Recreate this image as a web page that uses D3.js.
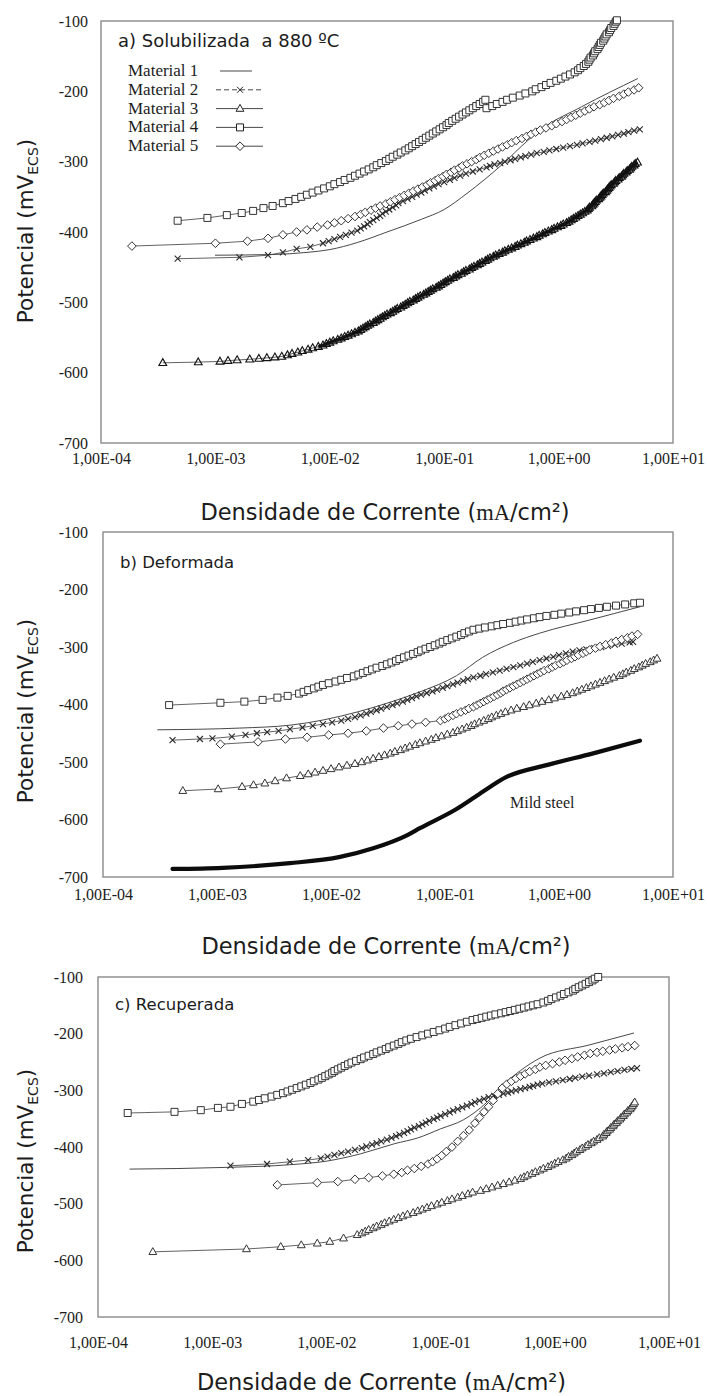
<!DOCTYPE html>
<html><head><meta charset="utf-8">
<script src="https://cdn.jsdelivr.net/npm/d3@7"></script>
<style>body{margin:0;background:#fff}</style>
</head><body>
<script>
// Polarisation curves: each point is [log10 of current density (mA/cm²), potential (mV ECS)]

// ---- a) Solubilizada a 880 ºC ----
const solM1 = [[-3.00,-433],[-2.50,-432],[-2.20,-429],[-2.00,-425],[-1.76,-415],[-1.50,-400],[-1.20,-382],[-1.00,-368],[-0.80,-345],[-0.50,-305],[-0.27,-270],[-0.16,-255],[0.20,-222],[0.69,-182]];
const solM2 = [[-3.33,-438],[-2.79,-436],[-2.54,-433],[-2.41,-429],[-2.29,-424],[-2.17,-421],[-2.06,-416],[-2.01,-413],[-1.96,-410],[-1.91,-407],[-1.86,-404],[-1.81,-401],[-1.76,-398],[-1.73,-395],[-1.70,-392],[-1.67,-389],[-1.65,-386],[-1.62,-383],[-1.59,-380],[-1.56,-377],[-1.54,-374],[-1.51,-371],[-1.48,-368],[-1.45,-365],[-1.42,-362],[-1.40,-359],[-1.36,-356],[-1.32,-353],[-1.28,-350],[-1.24,-347],[-1.20,-344],[-1.17,-341],[-1.13,-338],[-1.09,-335],[-1.05,-332],[-1.00,-329],[-0.95,-326],[-0.91,-323],[-0.86,-320],[-0.81,-317],[-0.75,-314],[-0.69,-311],[-0.63,-308],[-0.60,-306],[-0.56,-304],[-0.51,-302],[-0.47,-300],[-0.42,-298],[-0.38,-296],[-0.33,-294],[-0.29,-292],[-0.24,-290],[-0.19,-288],[-0.13,-286],[-0.08,-284],[-0.02,-282],[0.04,-280],[0.10,-278],[0.16,-276],[0.21,-274],[0.27,-272],[0.32,-270],[0.37,-268],[0.42,-266],[0.47,-264],[0.52,-262],[0.57,-260],[0.61,-258],[0.66,-256],[0.71,-254]];
const solM3 = [[-3.46,-586],[-3.15,-585],[-2.96,-584],[-2.89,-583],[-2.81,-582],[-2.70,-581],[-2.62,-580],[-2.55,-579],[-2.48,-578],[-2.42,-577],[-2.37,-575],[-2.33,-573],[-2.28,-571],[-2.24,-569],[-2.19,-567],[-2.15,-565],[-2.10,-563],[-2.06,-561],[-2.03,-559],[-2.00,-557],[-1.97,-555],[-1.93,-553],[-1.90,-551],[-1.87,-549],[-1.84,-547],[-1.81,-545],[-1.78,-543],[-1.75,-541],[-1.73,-539],[-1.71,-537],[-1.69,-535],[-1.67,-533],[-1.65,-531],[-1.62,-529],[-1.60,-527],[-1.58,-525],[-1.56,-523],[-1.54,-521],[-1.52,-519],[-1.50,-517],[-1.47,-515],[-1.45,-513],[-1.43,-511],[-1.41,-509],[-1.38,-507],[-1.36,-505],[-1.34,-503],[-1.32,-501],[-1.30,-499],[-1.27,-497],[-1.25,-495],[-1.23,-493],[-1.21,-491],[-1.18,-489],[-1.16,-487],[-1.14,-485],[-1.12,-483],[-1.10,-481],[-1.07,-479],[-1.05,-477],[-1.03,-475],[-1.01,-473],[-0.99,-471],[-0.97,-469],[-0.95,-467],[-0.92,-465],[-0.90,-463],[-0.88,-461],[-0.85,-459],[-0.83,-457],[-0.81,-455],[-0.78,-453],[-0.76,-451],[-0.74,-449],[-0.71,-447],[-0.69,-445],[-0.67,-443],[-0.64,-441],[-0.62,-439],[-0.60,-437],[-0.57,-435],[-0.55,-433],[-0.52,-431],[-0.49,-429],[-0.47,-427],[-0.44,-425],[-0.41,-423],[-0.38,-421],[-0.36,-419],[-0.33,-417],[-0.30,-415],[-0.28,-413],[-0.25,-411],[-0.22,-409],[-0.19,-407],[-0.17,-405],[-0.14,-403],[-0.12,-401],[-0.09,-399],[-0.06,-397],[-0.04,-395],[-0.01,-393],[0.02,-391],[0.04,-389],[0.07,-387],[0.09,-385],[0.11,-383],[0.13,-381],[0.15,-379],[0.17,-377],[0.19,-375],[0.21,-373],[0.23,-371],[0.25,-369],[0.26,-367],[0.27,-365],[0.29,-363],[0.30,-361],[0.31,-359],[0.32,-357],[0.33,-355],[0.35,-353],[0.36,-351],[0.37,-349],[0.38,-347],[0.39,-345],[0.41,-343],[0.42,-341],[0.43,-339],[0.44,-337],[0.45,-335],[0.46,-333],[0.48,-331],[0.49,-329],[0.50,-327],[0.52,-325],[0.53,-323],[0.55,-321],[0.56,-319],[0.57,-317],[0.59,-315],[0.60,-313],[0.62,-311],[0.63,-309],[0.64,-307],[0.66,-305],[0.67,-303],[0.69,-301]];
const solM4 = [[-3.33,-384],[-3.07,-380],[-2.90,-376],[-2.77,-373],[-2.67,-370],[-2.58,-366],[-2.50,-363],[-2.41,-359],[-2.36,-356],[-2.30,-353],[-2.25,-350],[-2.20,-347],[-2.15,-344],[-2.10,-341],[-2.05,-338],[-2.00,-335],[-1.96,-332],[-1.91,-329],[-1.87,-326],[-1.82,-323],[-1.78,-320],[-1.74,-317],[-1.70,-314],[-1.66,-311],[-1.62,-308],[-1.59,-305],[-1.55,-302],[-1.51,-299],[-1.48,-296],[-1.45,-293],[-1.41,-290],[-1.38,-287],[-1.34,-284],[-1.31,-281],[-1.28,-278],[-1.25,-275],[-1.22,-272],[-1.19,-269],[-1.16,-266],[-1.13,-263],[-1.10,-260],[-1.07,-257],[-1.04,-254],[-1.01,-251],[-0.98,-248],[-0.96,-245],[-0.93,-242],[-0.90,-239],[-0.87,-236],[-0.84,-233],[-0.81,-230],[-0.78,-227],[-0.75,-224],[-0.72,-221],[-0.69,-218],[-0.66,-215],[-0.64,-212],[-0.63,-224],[-0.58,-221],[-0.54,-218],[-0.49,-215],[-0.45,-212],[-0.40,-209],[-0.34,-206],[-0.29,-203],[-0.23,-200],[-0.20,-197],[-0.15,-194],[-0.11,-191],[-0.07,-188],[-0.02,-185],[0.02,-182],[0.06,-179],[0.10,-176],[0.14,-173],[0.17,-170],[0.19,-167],[0.22,-164],[0.24,-161],[0.26,-158],[0.27,-155],[0.28,-152],[0.30,-149],[0.31,-146],[0.32,-143],[0.34,-140],[0.35,-137],[0.36,-134],[0.37,-131],[0.39,-128],[0.40,-125],[0.41,-122],[0.42,-119],[0.44,-116],[0.45,-113],[0.46,-110],[0.48,-107],[0.49,-104],[0.50,-101],[0.51,-99]];
const solM5 = [[-3.73,-420],[-3.00,-416],[-2.72,-413],[-2.54,-409],[-2.41,-404],[-2.29,-400],[-2.20,-397],[-2.11,-393],[-2.02,-390],[-1.96,-387],[-1.90,-384],[-1.84,-381],[-1.78,-378],[-1.73,-375],[-1.69,-372],[-1.64,-369],[-1.60,-366],[-1.56,-363],[-1.51,-360],[-1.47,-357],[-1.43,-354],[-1.39,-351],[-1.35,-348],[-1.31,-345],[-1.27,-342],[-1.23,-339],[-1.19,-336],[-1.15,-333],[-1.12,-330],[-1.08,-327],[-1.05,-324],[-1.01,-321],[-0.98,-318],[-0.94,-315],[-0.91,-312],[-0.87,-309],[-0.84,-306],[-0.80,-303],[-0.76,-300],[-0.72,-297],[-0.69,-294],[-0.65,-291],[-0.61,-288],[-0.57,-285],[-0.53,-282],[-0.49,-279],[-0.45,-276],[-0.41,-273],[-0.37,-270],[-0.32,-267],[-0.28,-264],[-0.24,-261],[-0.20,-258],[-0.16,-255],[-0.11,-252],[-0.06,-249],[-0.02,-246],[0.03,-243],[0.07,-240],[0.11,-237],[0.15,-234],[0.19,-231],[0.23,-228],[0.27,-225],[0.31,-222],[0.36,-219],[0.40,-216],[0.44,-213],[0.48,-210],[0.53,-207],[0.57,-204],[0.61,-201],[0.66,-198],[0.70,-195]];

// ---- b) Deformada ----
const defM1 = [[-3.52,-444],[-2.80,-441],[-2.36,-436],[-2.07,-427],[-1.77,-413],[-1.48,-396],[-1.22,-378],[-0.90,-350],[-0.67,-318],[-0.40,-292],[-0.17,-276],[0.27,-253],[0.71,-230]];
const defM2 = [[-3.39,-462],[-3.15,-460],[-3.04,-459],[-2.87,-456],[-2.75,-453],[-2.65,-450],[-2.56,-448],[-2.46,-446],[-2.36,-443],[-2.25,-440],[-2.16,-437],[-2.07,-434],[-1.99,-431],[-1.91,-428],[-1.85,-425],[-1.79,-422],[-1.74,-419],[-1.69,-416],[-1.65,-413],[-1.60,-410],[-1.56,-407],[-1.51,-404],[-1.46,-401],[-1.42,-398],[-1.37,-395],[-1.33,-392],[-1.29,-389],[-1.25,-386],[-1.21,-383],[-1.16,-380],[-1.11,-377],[-1.07,-374],[-1.02,-371],[-0.98,-368],[-0.93,-365],[-0.89,-362],[-0.84,-359],[-0.80,-356],[-0.75,-353],[-0.69,-350],[-0.64,-347],[-0.58,-344],[-0.52,-341],[-0.46,-338],[-0.40,-335],[-0.34,-332],[-0.28,-329],[-0.23,-326],[-0.17,-323],[-0.11,-320],[-0.05,-317],[0.00,-314],[0.06,-311],[0.12,-308],[0.18,-306],[0.24,-304],[0.31,-302],[0.37,-300],[0.43,-298],[0.49,-296],[0.55,-294],[0.62,-292],[0.65,-291]];
const defM3 = [[-3.30,-550],[-2.99,-547],[-2.78,-543],[-2.68,-540],[-2.58,-537],[-2.49,-533],[-2.39,-528],[-2.27,-524],[-2.20,-521],[-2.14,-518],[-2.07,-515],[-2.00,-512],[-1.93,-509],[-1.86,-506],[-1.79,-503],[-1.73,-500],[-1.68,-497],[-1.63,-494],[-1.58,-491],[-1.53,-488],[-1.48,-485],[-1.44,-482],[-1.39,-479],[-1.35,-476],[-1.31,-473],[-1.26,-470],[-1.22,-467],[-1.17,-464],[-1.12,-461],[-1.08,-458],[-1.03,-455],[-0.98,-452],[-0.93,-449],[-0.89,-446],[-0.85,-443],[-0.81,-440],[-0.77,-437],[-0.74,-434],[-0.70,-431],[-0.66,-428],[-0.62,-425],[-0.59,-422],[-0.55,-419],[-0.51,-416],[-0.47,-413],[-0.42,-410],[-0.37,-407],[-0.31,-404],[-0.26,-401],[-0.20,-398],[-0.15,-395],[-0.09,-392],[-0.04,-389],[0.02,-386],[0.07,-383],[0.12,-380],[0.16,-377],[0.20,-374],[0.24,-371],[0.28,-368],[0.32,-365],[0.36,-362],[0.40,-359],[0.44,-356],[0.48,-353],[0.53,-350],[0.56,-347],[0.59,-344],[0.63,-341],[0.66,-338],[0.70,-335],[0.73,-332],[0.76,-329],[0.80,-326],[0.83,-323],[0.86,-320]];
const defM4 = [[-3.42,-401],[-2.97,-397],[-2.76,-395],[-2.60,-392],[-2.47,-388],[-2.38,-385],[-2.28,-381],[-2.24,-378],[-2.20,-375],[-2.15,-372],[-2.11,-369],[-2.07,-366],[-2.02,-363],[-1.96,-360],[-1.91,-357],[-1.86,-354],[-1.80,-351],[-1.76,-348],[-1.72,-345],[-1.68,-342],[-1.64,-339],[-1.60,-336],[-1.55,-333],[-1.51,-330],[-1.47,-327],[-1.43,-324],[-1.40,-321],[-1.36,-318],[-1.32,-315],[-1.28,-312],[-1.24,-309],[-1.21,-306],[-1.17,-303],[-1.13,-300],[-1.09,-297],[-1.05,-294],[-1.02,-291],[-0.98,-288],[-0.94,-285],[-0.90,-282],[-0.86,-279],[-0.83,-276],[-0.79,-273],[-0.75,-270],[-0.70,-268],[-0.65,-266],[-0.59,-264],[-0.54,-262],[-0.49,-260],[-0.43,-258],[-0.38,-256],[-0.33,-254],[-0.28,-252],[-0.22,-250],[-0.17,-248],[-0.11,-246],[-0.04,-244],[0.02,-242],[0.09,-240],[0.15,-238],[0.22,-236],[0.28,-234],[0.35,-232],[0.42,-230],[0.50,-228],[0.58,-226],[0.66,-224],[0.71,-223]];
const defM5 = [[-2.97,-469],[-2.64,-465],[-2.40,-460],[-2.21,-457],[-2.02,-453],[-1.85,-450],[-1.69,-446],[-1.54,-441],[-1.41,-437],[-1.29,-434],[-1.17,-431],[-1.04,-428],[-1.00,-425],[-0.97,-422],[-0.93,-419],[-0.90,-416],[-0.86,-413],[-0.82,-410],[-0.79,-407],[-0.75,-404],[-0.72,-401],[-0.69,-398],[-0.66,-395],[-0.63,-392],[-0.60,-389],[-0.57,-386],[-0.54,-383],[-0.51,-380],[-0.49,-377],[-0.46,-374],[-0.43,-371],[-0.40,-368],[-0.37,-365],[-0.34,-362],[-0.31,-359],[-0.28,-356],[-0.25,-353],[-0.22,-350],[-0.19,-347],[-0.16,-344],[-0.13,-341],[-0.09,-338],[-0.06,-335],[-0.03,-332],[0.01,-329],[0.04,-326],[0.07,-323],[0.11,-320],[0.14,-317],[0.17,-314],[0.21,-311],[0.24,-308],[0.27,-305],[0.32,-302],[0.36,-299],[0.41,-296],[0.46,-293],[0.50,-290],[0.55,-287],[0.60,-284],[0.64,-281],[0.69,-278]];
const defMildSteel = [[-3.39,-686],[-2.95,-684],[-2.36,-676],[-1.92,-665],[-1.63,-650],[-1.33,-627],[-1.22,-615],[-0.91,-583],[-0.70,-556],[-0.46,-526],[-0.10,-505],[0.30,-485],[0.71,-463]];

// ---- c) Recuperada ----
const recM1 = [[-3.72,-439],[-2.88,-436],[-2.30,-431],[-2.00,-425],[-1.70,-412],[-1.40,-394],[-1.20,-384],[-1.00,-368],[-0.80,-352],[-0.60,-322],[-0.45,-290],[-0.30,-265],[-0.13,-243],[0.30,-220],[0.69,-199]];
const recM2 = [[-2.84,-433],[-2.52,-430],[-2.32,-426],[-2.16,-423],[-2.05,-420],[-1.99,-417],[-1.93,-414],[-1.87,-411],[-1.81,-408],[-1.75,-405],[-1.69,-402],[-1.65,-399],[-1.60,-396],[-1.56,-393],[-1.52,-390],[-1.47,-387],[-1.43,-384],[-1.39,-381],[-1.36,-378],[-1.32,-375],[-1.29,-372],[-1.26,-369],[-1.23,-366],[-1.19,-363],[-1.16,-360],[-1.13,-357],[-1.10,-354],[-1.06,-351],[-1.03,-348],[-1.00,-345],[-0.96,-342],[-0.92,-339],[-0.89,-336],[-0.85,-333],[-0.81,-330],[-0.77,-327],[-0.73,-324],[-0.70,-321],[-0.66,-318],[-0.62,-315],[-0.58,-312],[-0.53,-310],[-0.49,-308],[-0.45,-306],[-0.41,-304],[-0.38,-302],[-0.34,-300],[-0.30,-298],[-0.26,-296],[-0.22,-294],[-0.19,-292],[-0.15,-290],[-0.11,-288],[-0.05,-286],[0.01,-284],[0.07,-282],[0.13,-280],[0.18,-278],[0.24,-276],[0.30,-274],[0.37,-272],[0.43,-270],[0.49,-268],[0.55,-266],[0.61,-264],[0.67,-262],[0.72,-261]];
const recM3 = [[-3.52,-585],[-2.70,-580],[-2.40,-576],[-2.22,-573],[-2.08,-570],[-1.97,-567],[-1.85,-561],[-1.73,-555],[-1.69,-552],[-1.66,-549],[-1.63,-546],[-1.59,-543],[-1.56,-540],[-1.52,-537],[-1.49,-534],[-1.45,-531],[-1.41,-528],[-1.37,-525],[-1.33,-522],[-1.29,-519],[-1.24,-516],[-1.20,-513],[-1.16,-510],[-1.12,-507],[-1.08,-504],[-1.03,-501],[-0.99,-498],[-0.94,-495],[-0.90,-492],[-0.85,-489],[-0.81,-486],[-0.76,-483],[-0.72,-480],[-0.65,-477],[-0.60,-474],[-0.55,-471],[-0.50,-468],[-0.45,-465],[-0.40,-462],[-0.35,-459],[-0.30,-456],[-0.27,-453],[-0.24,-450],[-0.20,-447],[-0.17,-444],[-0.13,-441],[-0.10,-438],[-0.06,-435],[-0.03,-432],[0.00,-429],[0.03,-426],[0.07,-423],[0.10,-420],[0.12,-417],[0.15,-414],[0.17,-411],[0.19,-408],[0.22,-405],[0.24,-402],[0.27,-399],[0.29,-396],[0.32,-393],[0.34,-390],[0.37,-387],[0.39,-384],[0.42,-381],[0.43,-378],[0.45,-375],[0.46,-372],[0.48,-369],[0.49,-366],[0.51,-363],[0.52,-360],[0.54,-357],[0.55,-354],[0.57,-351],[0.58,-348],[0.60,-345],[0.61,-342],[0.63,-339],[0.64,-336],[0.66,-333],[0.67,-330],[0.68,-327],[0.69,-324],[0.70,-321]];
const recM4 = [[-3.74,-340],[-3.33,-338],[-3.10,-335],[-2.95,-331],[-2.84,-329],[-2.74,-324],[-2.64,-320],[-2.59,-317],[-2.54,-314],[-2.48,-311],[-2.43,-308],[-2.38,-305],[-2.34,-302],[-2.30,-299],[-2.26,-296],[-2.22,-293],[-2.18,-290],[-2.14,-287],[-2.11,-284],[-2.07,-281],[-2.04,-278],[-2.01,-275],[-1.98,-272],[-1.95,-269],[-1.93,-266],[-1.90,-263],[-1.87,-260],[-1.84,-257],[-1.81,-254],[-1.78,-251],[-1.74,-248],[-1.70,-245],[-1.67,-242],[-1.63,-239],[-1.59,-236],[-1.56,-233],[-1.52,-230],[-1.48,-227],[-1.45,-224],[-1.41,-221],[-1.37,-218],[-1.34,-215],[-1.30,-212],[-1.26,-209],[-1.21,-206],[-1.16,-203],[-1.11,-200],[-1.06,-197],[-1.01,-194],[-0.96,-191],[-0.92,-188],[-0.87,-185],[-0.82,-182],[-0.77,-179],[-0.72,-176],[-0.68,-174],[-0.64,-172],[-0.60,-170],[-0.56,-168],[-0.52,-166],[-0.47,-164],[-0.43,-162],[-0.39,-160],[-0.35,-158],[-0.31,-156],[-0.27,-154],[-0.23,-152],[-0.19,-150],[-0.15,-148],[-0.10,-145],[-0.06,-142],[-0.03,-139],[0.01,-136],[0.05,-133],[0.08,-130],[0.12,-127],[0.16,-124],[0.18,-121],[0.21,-118],[0.24,-115],[0.27,-112],[0.30,-109],[0.33,-106],[0.35,-103],[0.38,-100]];
const recM5 = [[-2.43,-467],[-2.08,-463],[-1.90,-461],[-1.75,-457],[-1.63,-454],[-1.51,-451],[-1.41,-448],[-1.34,-445],[-1.29,-441],[-1.23,-438],[-1.17,-434],[-1.11,-430],[-1.07,-426],[-1.03,-421],[-0.99,-415],[-0.95,-408],[-0.90,-400],[-0.85,-390],[-0.80,-380],[-0.75,-370],[-0.70,-358],[-0.66,-348],[-0.62,-338],[-0.58,-329],[-0.54,-318],[-0.50,-306],[-0.46,-296],[-0.42,-289],[-0.38,-284],[-0.34,-279],[-0.30,-275],[-0.26,-271],[-0.22,-267],[-0.17,-263],[-0.13,-259],[-0.08,-256],[-0.02,-253],[0.04,-250],[0.09,-247],[0.15,-244],[0.20,-241],[0.26,-238],[0.31,-235],[0.37,-233],[0.42,-231],[0.48,-229],[0.53,-227],[0.59,-225],[0.64,-223],[0.70,-221]];

// axes
const xTickValues = [1e-4, 1e-3, 1e-2, 1e-1, 1, 10];
const xTickLabels = ["1,00E-04", "1,00E-03", "1,00E-02", "1,00E-01", "1,00E+00", "1,00E+01"];
const yTickValues = [-700, -600, -500, -400, -300, -200, -100];
const yTickLabels = ["-700", "-600", "-500", "-400", "-300", "-200", "-100"];
const legendLabels = ["Material 1", "Material 2", "Material 3", "Material 4", "Material 5"];
const panelTitles = ["a) Solubilizada  a 880 ºC", "b) Deformada", "c) Recuperada"];
const mildSteelLabel = "Mild steel";

const W = 707, H = 1396;
const SANS = "'DejaVu Sans', Verdana, sans-serif";
const SERIF = "'Liberation Serif', 'Times New Roman', serif";
const INK = "#1c1c1c";

const svg = d3.select("body").append("svg")
  .attr("width", W).attr("height", H)
  .style("display", "block").style("background", "#fff");

// marker glyphs
const markerPath = {
  cross: "M-3,-3L3,3M-3,3L3,-3",
  triangle: "M0,-4.2L3.9,2.7L-3.9,2.7Z",
  square: "M-3.5,-3.5H3.5V3.5H-3.5Z",
  diamond: "M0,-4.3L4.3,0L0,4.3L-4.3,0Z"
};

function drawMarkers(g, pts, x, y, kind, opts = {}) {
  const line = d3.line().x(d => x(10 ** d[0])).y(d => y(d[1]));
  g.append("path").datum(pts).attr("d", line)
    .attr("fill", "none").attr("stroke", "#3a3a3a").attr("stroke-width", 0.8);
  if (opts.bandFrom !== undefined) {
    // dense stretch of the curve, where the markers merge into a dark band
    g.append("path").datum(pts.filter(d => d[0] >= opts.bandFrom)).attr("d", line)
      .attr("fill", "none").attr("stroke", "#161616").attr("stroke-width", 3.2)
      .attr("stroke-linejoin", "round");
  }
  g.append("g").selectAll("path").data(pts).join("path")
    .attr("transform", d => `translate(${x(10 ** d[0])},${y(d[1])})`)
    .attr("d", markerPath[kind])
    .attr("fill", kind === "cross" || (opts.bandFrom !== undefined && 0) ? "none" : (opts.hollow ? "none" : "#fff"))
    .attr("stroke", opts.stroke || "#2a2a2a")
    .attr("stroke-width", opts.sw || (kind === "cross" ? 1.1 : 0.95));
}

function drawLine(g, pts, x, y, width, color) {
  const line = d3.line().curve(d3.curveMonotoneX).x(d => x(10 ** d[0])).y(d => y(d[1]));
  g.append("path").datum(pts).attr("d", line)
    .attr("fill", "none").attr("stroke", color).attr("stroke-width", width)
    .attr("stroke-linecap", "round");
}

const panels = [
  { box: { l: 101, r: 673, t: 21, b: 443 }, title: panelTitles[0], titleSize: 18, titleY: 47,
    xPad: 10, xTitleY: 520, yPad: 13, yTitleCy: 231,
    series: [["line", solM1], ["cross", solM2], ["triangle", solM3, { sw: 1.1, stroke: "#111", hollow: true, bandFrom: -2.1 }], ["square", solM4], ["diamond", solM5]] },
  { box: { l: 103, r: 673, t: 532, b: 877 }, title: panelTitles[1], titleSize: 16.5, titleY: 568,
    xPad: 12, xTitleY: 954, yPad: 15, yTitleCy: 711,
    series: [["line", defM1], ["cross", defM2], ["diamond", defM5], ["triangle", defM3], ["square", defM4], ["steel", defMildSteel]] },
  { box: { l: 98, r: 669, t: 977, b: 1317 }, title: panelTitles[2], titleSize: 16.5, titleY: 1010,
    xPad: 20, xTitleY: 1390, yPad: 15, yTitleCy: 1161,
    series: [["line", recM1], ["cross", recM2], ["diamond", recM5], ["triangle", recM3], ["square", recM4]] }
];

panels.forEach((p, pi) => {
  const { l, r, t, b } = p.box;
  const x = d3.scaleLog().domain([1e-4, 10]).range([l, r]);
  const y = d3.scaleLinear().domain([-700, -100]).range([b, t]);
  const g = svg.append("g");

  // x tick labels
  const xa = g.append("g").attr("transform", `translate(0,${b})`)
    .call(d3.axisBottom(x).tickValues(xTickValues).tickFormat((d, i) => xTickLabels[i]).tickSize(0).tickPadding(p.xPad));
  xa.select(".domain").remove();
  xa.selectAll("text").attr("font-family", SERIF).attr("font-size", 16).attr("fill", INK);

  // y tick labels
  const ya = g.append("g").attr("transform", `translate(${l},0)`)
    .call(d3.axisLeft(y).tickValues(yTickValues).tickFormat((d, i) => yTickLabels[i]).tickSize(0).tickPadding(p.yPad));
  ya.select(".domain").remove();
  ya.selectAll("text").attr("font-family", SERIF).attr("font-size", 16).attr("fill", INK);

  // plot frame
  g.append("rect").attr("x", l).attr("y", t).attr("width", r - l).attr("height", b - t)
    .attr("fill", "none").attr("stroke", "#8a8a8a").attr("stroke-width", 1.4);

  // curves
  const plot = g.append("g");
  p.series.forEach(([kind, pts, opts]) => {
    if (kind === "line") drawLine(plot, pts, x, y, 0.9, "#333");
    else if (kind === "steel") drawLine(plot, pts, x, y, 4.2, "#0c0c0c");
    else drawMarkers(plot, pts, x, y, kind, opts);
  });

  // panel title
  g.append("text").attr("x", l + 17).attr("y", p.titleY)
    .attr("font-family", SANS).attr("font-size", p.titleSize).attr("fill", INK)
    .style("white-space", "pre").text(p.title);

  // axis titles
  const xt = g.append("text").attr("x", (l + r) / 2 - 2).attr("y", p.xTitleY)
    .attr("text-anchor", "middle").attr("font-family", SANS).attr("font-size", 22.5).attr("fill", INK);
  xt.append("tspan").text("Densidade de Corrente (");
  xt.append("tspan").attr("font-family", SERIF).text("mA");
  xt.append("tspan").text("/cm²)");

  const yt = g.append("text").attr("transform", `translate(33,${p.yTitleCy}) rotate(-90)`)
    .attr("text-anchor", "middle").attr("font-family", SANS).attr("font-size", 21.5).attr("fill", INK);
  yt.append("tspan").text("Potencial (mV");
  yt.append("tspan").attr("font-size", 14).attr("dy", 5).text("ECS");
  yt.append("tspan").attr("dy", -5).text(")");

  if (pi === 1) {
    g.append("text").attr("x", 510).attr("y", 808)
      .attr("font-family", SERIF).attr("font-size", 16).attr("fill", INK).text(mildSteelLabel);
  }

  if (pi === 0) {
    // legend
    const kinds = ["line", "cross", "triangle", "square", "diamond"];
    const lg = g.append("g");
    legendLabels.forEach((lab, i) => {
      const cy = 71 + i * 18.8;
      lg.append("text").attr("x", 128).attr("y", cy + 5)
        .attr("font-family", SERIF).attr("font-size", 17).attr("fill", INK).text(lab);
      const x0 = i === 0 ? 220 : 216, x1 = i === 0 ? 252 : 263;
      lg.append("line").attr("x1", x0).attr("x2", x1).attr("y1", cy).attr("y2", cy)
        .attr("stroke", "#333").attr("stroke-width", 0.9)
        .attr("stroke-dasharray", i === 1 ? "5,3" : null);
      if (i > 0) {
        lg.append("path").attr("transform", `translate(240,${cy})`).attr("d", markerPath[kinds[i]])
          .attr("fill", kinds[i] === "cross" ? "none" : "#fff").attr("stroke", "#222").attr("stroke-width", 1);
      }
    });
  }
});
</script>
</body></html>
